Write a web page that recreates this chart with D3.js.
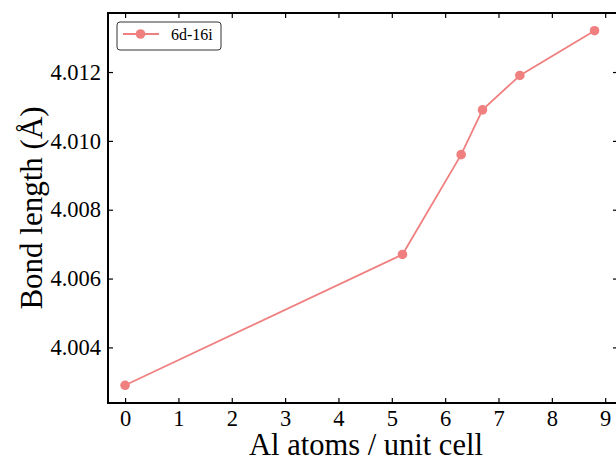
<!DOCTYPE html>
<html>
<head>
<meta charset="utf-8">
<script src="https://cdn.jsdelivr.net/npm/d3@7"></script>
<style>
  body { margin: 0; background: #fff; }
  svg, svg text { font-family: "Liberation Serif", "DejaVu Serif", serif !important; }
</style>
</head>
<body>
<div id="chart"></div>
<script>
// data
const alAtoms = [0, 5.2, 6.3, 6.7, 7.4, 8.8];
const bondLength = [4.0029, 4.0067, 4.0096, 4.0109, 4.0119, 4.0132];
const seriesName = '6d-16i';
const xTicks = [0, 1, 2, 3, 4, 5, 6, 7, 8, 9];
const yTicks = [4.004, 4.006, 4.008, 4.010, 4.012];

const width = 616, height = 462;
const plot = {left: 108, right: 618, top: 13, bottom: 403};
const color = '#f08080';

const svg = d3.select('#chart').append('svg')
    .attr('width', width)
    .attr('height', height);

const x = d3.scaleLinear().domain([-0.32, 9.24]).range([plot.left, plot.right]);
const y = d3.scaleLinear().domain([4.002385, 4.013715]).range([plot.bottom, plot.top]);

const points = alAtoms.map((d, i) => ({x: d, y: bondLength[i]}));

// axes, ticks pointing inward
const xAxisB = d3.axisBottom(x).tickValues(xTicks).tickSizeInner(-5).tickSizeOuter(0).tickPadding(7).tickFormat(d3.format('d'));
const xAxisT = d3.axisTop(x).tickValues(xTicks).tickSizeInner(-5).tickSizeOuter(0).tickFormat('');
const yAxisL = d3.axisLeft(y).tickValues(yTicks).tickSizeInner(-5).tickSizeOuter(0).tickPadding(7).tickFormat(d3.format('.3f'));
const yAxisR = d3.axisRight(y).tickValues(yTicks).tickSizeInner(-5).tickSizeOuter(0).tickFormat('');

function style(g){
    g.attr('font-family', null);
    g.select('.domain').remove();
    g.selectAll('.tick line').attr('stroke', '#000').attr('stroke-width', 1.2);
    g.selectAll('.tick text').attr('fill', '#000').style('font-size', '22.5px');
}

svg.append('g').attr('transform', 'translate(0,' + plot.bottom + ')').call(xAxisB).call(style);
svg.append('g').attr('transform', 'translate(0,' + plot.top + ')').call(xAxisT).call(style);
svg.append('g').attr('transform', 'translate(' + plot.left + ',0)').call(yAxisL).call(style);
svg.append('g').attr('transform', 'translate(' + plot.right + ',0)').call(yAxisR).call(style);

// frame
svg.append('rect')
    .attr('x', plot.left).attr('y', plot.top)
    .attr('width', plot.right - plot.left).attr('height', plot.bottom - plot.top)
    .attr('fill', 'none').attr('stroke', '#000').attr('stroke-width', 2);

const line = d3.line().x(d => x(d.x)).y(d => y(d.y));

svg.append('path')
    .datum(points)
    .attr('d', line)
    .attr('fill', 'none')
    .attr('stroke', color)
    .attr('stroke-width', 1.8);

svg.selectAll('circle.pt')
    .data(points)
    .enter().append('circle')
    .attr('class', 'pt')
    .attr('cx', d => x(d.x))
    .attr('cy', d => y(d.y))
    .attr('r', 4.8)
    .attr('fill', color);

// legend
const lg = svg.append('g').attr('transform', 'translate(117,22)');
lg.append('rect')
    .attr('width', 104).attr('height', 28).attr('rx', 3)
    .attr('fill', '#fff').attr('stroke', '#333').attr('stroke-width', 1);
lg.append('line')
    .attr('x1', 6).attr('x2', 42).attr('y1', 12).attr('y2', 12)
    .attr('stroke', color).attr('stroke-width', 1.8);
lg.append('circle').attr('cx', 23.5).attr('cy', 12).attr('r', 4.8).attr('fill', color);
lg.append('text')
    .attr('x', 54).attr('y', 17.5)
    .style('font-size', '16px')
    .text(seriesName);

// axis titles
svg.append('text')
    .attr('x', 366)
    .attr('y', 455)
    .attr('text-anchor', 'middle')
    .style('font-size', '30.5px')
    .text('Al atoms / unit cell');

svg.append('text')
    .attr('transform', 'translate(42,' + (plot.top + plot.bottom) / 2 + ') rotate(-90)')
    .attr('text-anchor', 'middle')
    .style('font-size', '31px')
    .text('Bond length (Å)');
</script>
</body>
</html>
